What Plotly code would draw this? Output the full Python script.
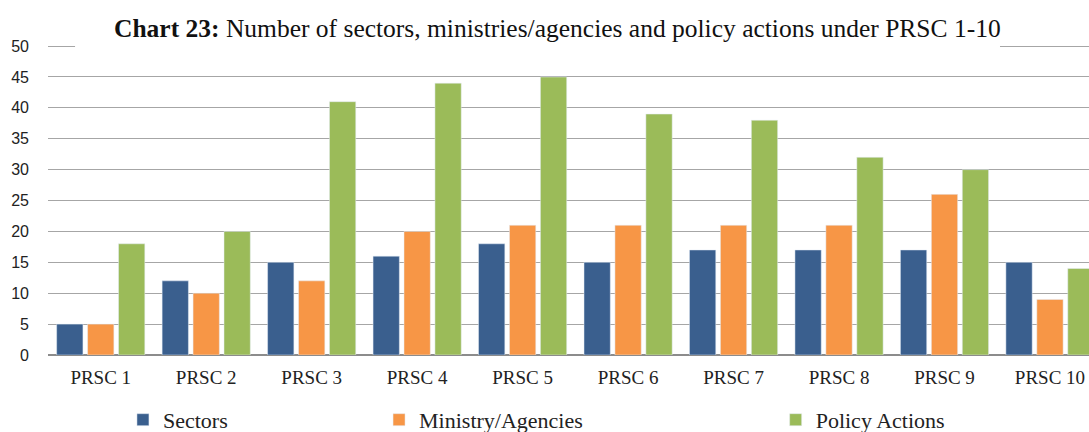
import plotly.graph_objects as go

categories = ["PRSC 1", "PRSC 2", "PRSC 3", "PRSC 4", "PRSC 5", "PRSC 6", "PRSC 7", "PRSC 8", "PRSC 9", "PRSC 10"]
sectors = [5, 12, 15, 16, 18, 15, 17, 17, 17, 15]
ministries = [5, 10, 12, 20, 21, 21, 21, 21, 26, 9]
policy_actions = [18, 20, 41, 44, 45, 39, 38, 32, 30, 14]
y_ticks = [0, 5, 10, 15, 20, 25, 30, 35, 40, 45, 50]

SERIF = "Liberation Serif, Times New Roman, serif"
SANS = "Liberation Sans, Arial, sans-serif"

fig = go.Figure()
fig.add_trace(go.Bar(x=categories, y=sectors, name="Sectors", marker_color="#3A5F8E", legend="legend"))
fig.add_trace(go.Bar(x=categories, y=ministries, name="Ministry/Agencies", marker_color="#F79646", legend="legend2"))
fig.add_trace(go.Bar(x=categories, y=policy_actions, name="Policy Actions", marker_color="#9BBB59", legend="legend3"))

legend_common = dict(orientation="h", yanchor="middle", y=-0.208, xanchor="left",
                     font=dict(family=SERIF, size=22, color="#222"), bgcolor="rgba(0,0,0,0)")

fig.update_layout(
    width=1089, height=432,
    margin=dict(l=48, r=0, t=43, b=77, autoexpand=False),
    paper_bgcolor="white", plot_bgcolor="white",
    barmode="group", bargap=0.12, bargroupgap=0.15,
    font=dict(family=SERIF, color="#333"),
    xaxis=dict(range=[-0.5, 9.37], showgrid=False, showline=False, ticks="", automargin=False,
               tickfont=dict(family=SERIF, size=19, color="#222"), ticklabelstandoff=9),
    yaxis=dict(range=[0, 50.5], tickvals=y_ticks, showgrid=True, gridcolor="#A6A6A6", gridwidth=1,
               zeroline=True, zerolinecolor="#8C8C8C", zerolinewidth=1.5, automargin=False,
               tickfont=dict(family=SANS, size=16, color="#222"), ticklabelstandoff=18, showline=False),
    legend=dict(x=0.072, **legend_common),
    legend2=dict(x=0.318, **legend_common),
    legend3=dict(x=0.699, **legend_common),
    showlegend=True,
)

# white band hiding the top gridline behind the title
fig.add_shape(type="line", xref="paper", yref="y", x0=0.026, x1=0.9145, y0=50, y1=50,
              line=dict(color="white", width=4), layer="above")

fig.add_annotation(
    text="<b>Chart 23:</b> Number of sectors, ministries/agencies and policy actions under PRSC 1-10",
    xref="paper", yref="paper", x=0.489, y=1.048, xanchor="center", yanchor="middle",
    showarrow=False, font=dict(family=SERIF, size=25.5, color="#111"),
    bgcolor="white", borderpad=2,
)

fig.write_html("out.html", config={"displayModeBar": False},
               post_script="document.body.style.margin='0px';document.body.style.overflow='hidden';")
